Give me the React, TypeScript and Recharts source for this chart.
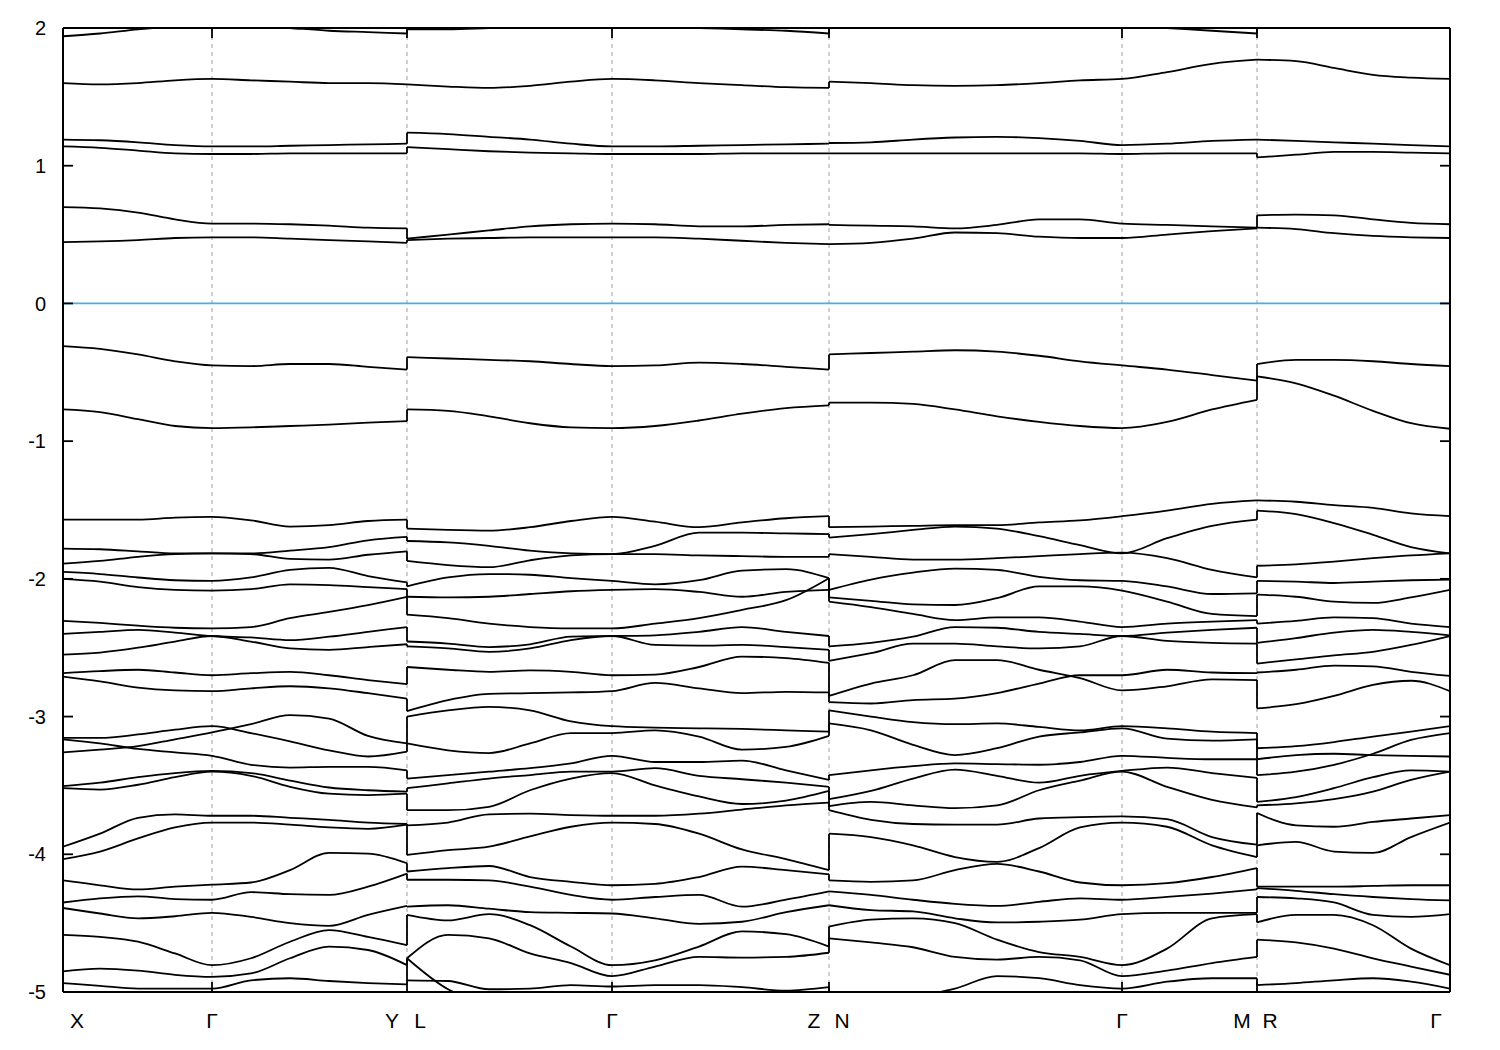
import { LineChart, Line, XAxis, YAxis, ReferenceLine } from "recharts";

// --- k-path sample positions (path length, arbitrary units) ---

const K_XY = [0, 37, 75, 112, 149, 188, 227, 266, 305, 344];
const K_LZ = [344, 385, 426, 467, 508, 549, 592, 636, 679, 723, 766];
const K_NM = [766, 808, 850, 892, 934, 976, 1017, 1059, 1104, 1149, 1194];
const K_RG = [1194, 1233, 1271, 1310, 1348, 1387];

const SYM_K = [0, 149, 344, 549, 766, 1059, 1194, 1387];
const SYM_LABELS = ["X", "Γ", "Y|L", "Γ", "Z|N", "Γ", "M|R", "Γ"];
const Y_TICKS = [-5, -4, -3, -2, -1, 0, 1, 2];

// --- band energies (eV) on each k sample ---

const BANDS_XY: number[][] = [
  [1.94, 1.96, 1.99, 2.01, 2.02, 2.02, 2.0, 1.98, 1.97, 1.96],
  [1.6, 1.59, 1.6, 1.62, 1.63, 1.62, 1.61, 1.6, 1.6, 1.59],
  [1.19, 1.185, 1.17, 1.15, 1.14, 1.14, 1.145, 1.15, 1.155, 1.16],
  [1.14, 1.13, 1.11, 1.09, 1.085, 1.085, 1.09, 1.09, 1.09, 1.09],
  [0.7, 0.69, 0.66, 0.61, 0.58, 0.58, 0.575, 0.565, 0.55, 0.545],
  [0.445, 0.45, 0.46, 0.475, 0.48, 0.48, 0.47, 0.46, 0.45, 0.44],
  [-0.31, -0.33, -0.37, -0.42, -0.45, -0.455, -0.44, -0.44, -0.46, -0.48],
  [-0.77, -0.79, -0.84, -0.89, -0.905, -0.9, -0.89, -0.88, -0.865, -0.855],
  [-1.57, -1.57, -1.57, -1.555, -1.55, -1.575, -1.62, -1.61, -1.58, -1.57],
  [-1.78, -1.785, -1.8, -1.815, -1.815, -1.82, -1.855, -1.86, -1.825, -1.8],
  [-1.89, -1.87, -1.84, -1.82, -1.815, -1.815, -1.795, -1.77, -1.72, -1.695],
  [-1.95, -1.965, -1.99, -2.01, -2.015, -1.99, -1.935, -1.92, -1.98, -2.025],
  [-2.0, -2.02, -2.06, -2.08, -2.085, -2.075, -2.04, -2.045, -2.06, -2.075],
  [-2.305, -2.32, -2.34, -2.355, -2.36, -2.35, -2.285, -2.24, -2.19, -2.13],
  [-2.4, -2.385, -2.37, -2.39, -2.415, -2.425, -2.445, -2.42, -2.385, -2.35],
  [-2.55, -2.535, -2.5, -2.455, -2.415, -2.455, -2.505, -2.515, -2.495, -2.475],
  [-2.685, -2.67, -2.66, -2.68, -2.7, -2.685, -2.675, -2.7, -2.735, -2.765],
  [-2.71, -2.745, -2.79, -2.81, -2.815, -2.795, -2.78, -2.795, -2.83, -2.87],
  [-3.155, -3.155, -3.13, -3.095, -3.07, -3.12, -3.18, -3.245, -3.29, -3.255],
  [-3.26, -3.24, -3.215, -3.165, -3.115, -3.055, -2.99, -3.015, -3.14, -3.195],
  [-3.165, -3.195, -3.235, -3.26, -3.285, -3.35, -3.37, -3.365, -3.365, -3.39],
  [-3.505, -3.48, -3.44, -3.41, -3.395, -3.41, -3.465, -3.515, -3.535, -3.545],
  [-3.52, -3.53, -3.495, -3.44, -3.4, -3.43, -3.51, -3.56, -3.57, -3.56],
  [-3.945, -3.85, -3.735, -3.71, -3.72, -3.72, -3.735, -3.75, -3.77, -3.78],
  [-4.035, -3.98, -3.885, -3.805, -3.77, -3.77, -3.785, -3.805, -3.815, -3.785],
  [-4.19, -4.225, -4.255, -4.235, -4.22, -4.205, -4.115, -3.99, -3.995, -4.065],
  [-4.35, -4.32, -4.305, -4.325, -4.33, -4.275, -4.29, -4.295, -4.235, -4.14],
  [-4.39, -4.43, -4.465, -4.45, -4.425, -4.455, -4.5, -4.52, -4.44, -4.375],
  [-4.585, -4.6, -4.635, -4.72, -4.805, -4.755, -4.635, -4.55, -4.6, -4.66],
  [-4.85, -4.83, -4.845, -4.875, -4.89, -4.865, -4.755, -4.67, -4.695, -4.805],
  [-4.935, -4.955, -4.975, -4.975, -4.975, -4.915, -4.9, -4.92, -4.935, -4.945],
];

const BANDS_LZ: number[][] = [
  [1.99, 1.99, 2.0, 2.01, 2.02, 2.02, 2.01, 2.0, 1.99, 1.98, 1.96],
  [1.59, 1.575, 1.565, 1.58, 1.61, 1.63, 1.62, 1.6, 1.585, 1.57, 1.565],
  [1.24, 1.23, 1.21, 1.19, 1.16, 1.14, 1.14, 1.145, 1.15, 1.155, 1.16],
  [1.135, 1.12, 1.105, 1.095, 1.09, 1.085, 1.085, 1.085, 1.09, 1.09, 1.09],
  [0.47, 0.5, 0.53, 0.56, 0.575, 0.58, 0.575, 0.56, 0.56, 0.57, 0.575],
  [0.46, 0.47, 0.475, 0.48, 0.48, 0.48, 0.48, 0.47, 0.455, 0.44, 0.43],
  [-0.39, -0.4, -0.41, -0.42, -0.44, -0.455, -0.45, -0.43, -0.44, -0.46, -0.48],
  [-0.77, -0.78, -0.82, -0.87, -0.9, -0.905, -0.89, -0.85, -0.8, -0.76, -0.74],
  [-1.635, -1.645, -1.65, -1.625, -1.58, -1.55, -1.585, -1.625, -1.59, -1.56, -1.545],
  [-1.725, -1.735, -1.76, -1.795, -1.815, -1.82, -1.76, -1.665, -1.665, -1.67, -1.675],
  [-1.87, -1.9, -1.915, -1.865, -1.83, -1.82, -1.82, -1.83, -1.835, -1.84, -1.84],
  [-2.055, -1.99, -1.965, -1.97, -1.995, -2.015, -2.04, -2.01, -1.94, -1.93, -1.995],
  [-2.13, -2.135, -2.13, -2.11, -2.09, -2.08, -2.075, -2.095, -2.13, -2.095, -2.08],
  [-2.26, -2.285, -2.325, -2.35, -2.36, -2.36, -2.325, -2.285, -2.225, -2.155, -1.995],
  [-2.455, -2.47, -2.495, -2.475, -2.42, -2.415, -2.41, -2.385, -2.35, -2.385, -2.415],
  [-2.49, -2.505, -2.53, -2.505, -2.445, -2.415, -2.48, -2.485, -2.48, -2.495, -2.515],
  [-2.64, -2.66, -2.675, -2.665, -2.675, -2.7, -2.695, -2.64, -2.565, -2.575, -2.61],
  [-2.96, -2.88, -2.835, -2.83, -2.825, -2.815, -2.755, -2.795, -2.83, -2.82, -2.825],
  [-3.0, -2.955, -2.93, -2.955, -3.035, -3.07, -3.08, -3.085, -3.09, -3.1, -3.11],
  [-3.195, -3.245, -3.265, -3.195, -3.12, -3.12, -3.1, -3.145, -3.24, -3.22, -3.14],
  [-3.45, -3.425, -3.4, -3.375, -3.34, -3.285, -3.33, -3.33, -3.32, -3.39, -3.46],
  [-3.52, -3.485, -3.45, -3.425, -3.4, -3.4, -3.375, -3.43, -3.455, -3.48, -3.51],
  [-3.68, -3.68, -3.655, -3.535, -3.45, -3.41, -3.5, -3.58, -3.635, -3.61, -3.54],
  [-3.79, -3.77, -3.71, -3.705, -3.715, -3.72, -3.72, -3.705, -3.675, -3.645, -3.625],
  [-4.005, -3.97, -3.945, -3.87, -3.8, -3.77, -3.78, -3.85, -3.965, -4.035, -4.115],
  [-4.125, -4.1, -4.085, -4.165, -4.2, -4.225, -4.215, -4.165, -4.09, -4.115, -4.145],
  [-4.185, -4.185, -4.19, -4.235, -4.295, -4.33, -4.31, -4.295, -4.38, -4.33, -4.27],
  [-4.38, -4.37, -4.395, -4.42, -4.425, -4.43, -4.465, -4.505, -4.49, -4.42, -4.37],
  [-4.44, -4.48, -4.435, -4.515, -4.67, -4.805, -4.77, -4.67, -4.56, -4.58, -4.67],
  [-4.755, -4.585, -4.61, -4.72, -4.79, -4.885, -4.815, -4.745, -4.75, -4.745, -4.715],
  [-4.755, -4.98, -5.08, -5.12, -5.12, -5.12, -5.12, -5.1, -5.08, -5.06, -5.05],
  [-4.915, -4.92, -4.98, -4.975, -4.95, -4.96, -4.95, -4.95, -4.965, -4.99, -4.965],
];

const BANDS_NM: number[][] = [
  [2.01, 2.02, 2.02, 2.01, 2.0, 2.0, 2.01, 2.02, 2.0, 1.98, 1.96],
  [1.61, 1.6, 1.585, 1.58, 1.585, 1.6, 1.62, 1.63, 1.68, 1.74, 1.77],
  [1.165, 1.17, 1.19, 1.205, 1.21, 1.2, 1.18, 1.15, 1.16, 1.18, 1.19],
  [1.09, 1.09, 1.09, 1.09, 1.09, 1.09, 1.09, 1.085, 1.09, 1.09, 1.09],
  [0.57, 0.565, 0.56, 0.545, 0.57, 0.61, 0.61, 0.58, 0.57, 0.56, 0.55],
  [0.43, 0.44, 0.47, 0.515, 0.51, 0.485, 0.475, 0.475, 0.5, 0.525, 0.545],
  [-0.37, -0.36, -0.35, -0.34, -0.35, -0.38, -0.42, -0.45, -0.48, -0.52, -0.56],
  [-0.72, -0.72, -0.73, -0.77, -0.82, -0.86, -0.89, -0.905, -0.86, -0.77, -0.7],
  [-1.625, -1.62, -1.615, -1.61, -1.61, -1.59, -1.575, -1.545, -1.505, -1.455, -1.43],
  [-1.7, -1.675, -1.645, -1.62, -1.635, -1.69, -1.755, -1.815, -1.705, -1.615, -1.57],
  [-1.82, -1.84, -1.86, -1.86, -1.85, -1.835, -1.82, -1.81, -1.85, -1.935, -1.99],
  [-2.08, -2.005, -1.955, -1.925, -1.935, -1.985, -2.01, -2.015, -2.055, -2.11, -2.105],
  [-2.135, -2.16, -2.185, -2.19, -2.14, -2.055, -2.055, -2.085, -2.165, -2.255, -2.27],
  [-2.165, -2.205, -2.255, -2.3, -2.28, -2.28, -2.31, -2.35, -2.325, -2.31, -2.3],
  [-2.49, -2.465, -2.42, -2.35, -2.355, -2.385, -2.4, -2.415, -2.39, -2.37, -2.355],
  [-2.595, -2.54, -2.47, -2.47, -2.49, -2.505, -2.49, -2.415, -2.45, -2.465, -2.47],
  [-2.85, -2.76, -2.7, -2.59, -2.59, -2.66, -2.72, -2.81, -2.78, -2.73, -2.735],
  [-2.895, -2.905, -2.88, -2.87, -2.83, -2.76, -2.7, -2.7, -2.66, -2.68, -2.685],
  [-2.955, -3.0, -3.04, -3.055, -3.05, -3.075, -3.1, -3.07, -3.085, -3.11, -3.12],
  [-3.05, -3.1, -3.205, -3.28, -3.23, -3.145, -3.115, -3.085, -3.16, -3.175, -3.165],
  [-3.425, -3.39, -3.36, -3.34, -3.345, -3.35, -3.33, -3.285, -3.3, -3.31, -3.31],
  [-3.6, -3.54, -3.45, -3.385, -3.43, -3.48, -3.43, -3.395, -3.37, -3.41, -3.445],
  [-3.65, -3.62, -3.645, -3.665, -3.645, -3.535, -3.465, -3.4, -3.51, -3.605, -3.66],
  [-3.68, -3.75, -3.78, -3.785, -3.785, -3.74, -3.73, -3.725, -3.745, -3.875, -3.93],
  [-3.85, -3.875, -3.935, -4.02, -4.055, -3.955, -3.805, -3.77, -3.8, -3.935, -4.02],
  [-4.19, -4.2, -4.19, -4.115, -4.07, -4.125, -4.205, -4.225, -4.21, -4.165, -4.1],
  [-4.27, -4.295, -4.33, -4.36, -4.375, -4.345, -4.32, -4.33, -4.31, -4.285, -4.255],
  [-4.37, -4.405, -4.415, -4.465, -4.495, -4.49, -4.475, -4.435, -4.425, -4.425, -4.425],
  [-4.525, -4.475, -4.465, -4.5, -4.62, -4.71, -4.745, -4.805, -4.685, -4.465, -4.435],
  [-4.61, -4.64, -4.675, -4.745, -4.765, -4.745, -4.77, -4.885, -4.845, -4.79, -4.745],
  [-5.11, -5.08, -5.035, -4.975, -4.885, -4.9, -4.95, -4.975, -4.925, -4.9, -4.9],
];

const BANDS_RG: number[][] = [
  [2.05, 2.05, 2.05, 2.05, 2.05, 2.05],
  [1.77, 1.76, 1.71, 1.66, 1.64, 1.63],
  [1.19, 1.18, 1.17, 1.16, 1.15, 1.14],
  [1.06, 1.08, 1.1, 1.1, 1.095, 1.09],
  [0.64, 0.645, 0.64, 0.61, 0.585, 0.575],
  [0.55, 0.54, 0.51, 0.49, 0.48, 0.475],
  [-0.44, -0.41, -0.41, -0.42, -0.44, -0.455],
  [-0.53, -0.58, -0.67, -0.78, -0.87, -0.91],
  [-1.43, -1.44, -1.465, -1.485, -1.525, -1.545],
  [-1.505, -1.53, -1.595, -1.68, -1.77, -1.815],
  [-1.905, -1.895, -1.875, -1.85, -1.83, -1.815],
  [-2.015, -2.02, -2.03, -2.02, -2.01, -2.005],
  [-2.115, -2.13, -2.165, -2.175, -2.135, -2.08],
  [-2.325, -2.305, -2.28, -2.285, -2.325, -2.35],
  [-2.465, -2.43, -2.39, -2.37, -2.385, -2.41],
  [-2.615, -2.585, -2.555, -2.53, -2.48, -2.415],
  [-2.68, -2.66, -2.63, -2.635, -2.675, -2.705],
  [-2.94, -2.91, -2.85, -2.77, -2.74, -2.815],
  [-3.23, -3.215, -3.185, -3.145, -3.11, -3.07],
  [-3.31, -3.28, -3.27, -3.28, -3.285, -3.29],
  [-3.425, -3.4, -3.35, -3.27, -3.17, -3.12],
  [-3.62, -3.585, -3.52, -3.44, -3.39, -3.4],
  [-3.645, -3.63, -3.6, -3.545, -3.46, -3.4],
  [-3.7, -3.79, -3.8, -3.765, -3.74, -3.715],
  [-3.935, -3.91, -3.98, -3.99, -3.875, -3.77],
  [-4.235, -4.235, -4.235, -4.23, -4.225, -4.225],
  [-4.245, -4.265, -4.29, -4.31, -4.325, -4.335],
  [-4.31, -4.32, -4.35, -4.44, -4.455, -4.435],
  [-4.495, -4.44, -4.44, -4.515, -4.685, -4.805],
  [-4.62, -4.64, -4.685, -4.755, -4.815, -4.875],
  [-4.95, -4.935, -4.915, -4.9, -4.925, -4.975],
];

// --- build series ---

type Pt = { k: number; e: number };

const PANELS = [
  { k: K_XY, bands: BANDS_XY },
  { k: K_LZ, bands: BANDS_LZ },
  { k: K_NM, bands: BANDS_NM },
  { k: K_RG, bands: BANDS_RG },
];

const bandSeries: Pt[][] = [];
PANELS.forEach((p) => {
  p.bands.forEach((b) => bandSeries.push(b.map((e, i) => ({ k: p.k[i], e }))));
});

// vertical jumps at panel boundaries: pair bands by energy order
const jumpSeries: Pt[][] = [];
for (let p = 0; p < PANELS.length - 1; p++) {
  const kb = PANELS[p + 1].k[0];
  const ends = PANELS[p].bands.map((b) => b[b.length - 1]);
  const starts = PANELS[p + 1].bands.map((b) => b[0]);
  const cond = (arr: number[]) => arr.filter((v) => v > 0).sort((a, b) => a - b);
  const val = (arr: number[]) => arr.filter((v) => v < 0).sort((a, b) => b - a);
  [[cond(ends), cond(starts)], [val(ends), val(starts)]].forEach(([a, b]) => {
    const n = Math.min(a.length, b.length);
    for (let i = 0; i < n; i++) {
      if (Math.abs(a[i] - b[i]) > 0.004) {
        jumpSeries.push([{ k: kb, e: a[i] }, { k: kb, e: b[i] }]);
      }
    }
  });
}

const K_MAX = SYM_K[SYM_K.length - 1];
const TICK_K = 10; // tick length in k units (1 unit = 1px)
const TICK_E = 10 * 7 / 964;
const LINE_W = 1.8;

function SymTick(props: any) {
  const { x, y, payload } = props;
  const idx = SYM_K.indexOf(payload.value);
  const label = SYM_LABELS[idx] ?? "";
  const style = { fontSize: 21, fill: "#000" };
  const ty = y + 36;
  if (label.includes("|")) {
    const [l, r] = label.split("|");
    return (
      <g>
        <text x={x - 15} y={ty} textAnchor="middle" {...style}>{l}</text>
        <text x={x + 13} y={ty} textAnchor="middle" {...style}>{r}</text>
      </g>
    );
  }
  const dx = idx === 0 ? 14 : idx === SYM_K.length - 1 ? -14 : 0;
  return (
    <text x={x + dx} y={ty} textAnchor="middle" {...style}>{label}</text>
  );
}

export default function App() {
  return (
    <div style={{ fontFamily: "'Liberation Sans', Arial, sans-serif" }}>
      <LineChart
        width={1484}
        height={1034}
        margin={{ top: 20, right: 42, left: 0, bottom: 0 }}
        style={{ fontFamily: "'Liberation Sans', Arial, sans-serif" }}
      >
        <XAxis
          dataKey="k"
          type="number"
          domain={[0, K_MAX]}
          ticks={SYM_K}
          interval={0}
          allowDataOverflow
          axisLine={false}
          tickLine={false}
          tickSize={0}
          tickMargin={0}
          height={50}
          tick={<SymTick />}
        />
        <YAxis
          type="number"
          domain={[-5, 2]}
          ticks={Y_TICKS}
          interval={0}
          allowDataOverflow
          axisLine={false}
          tickLine={false}
          tickSize={0}
          tickMargin={17}
          width={55}
          tick={{ fill: "#000", fontSize: 20 }}
        />

        {/* dotted high-symmetry lines */}
        {SYM_K.slice(1, -1).map((k) => (
          <ReferenceLine key={`v${k}`} x={k} stroke="#a0a0a0" strokeWidth={1} strokeDasharray="4 4" />
        ))}
        <ReferenceLine y={0} stroke="#4aaee6" strokeWidth={1.8} />

        {bandSeries.map((d, i) => (
          <Line
            key={`b${i}`}
            data={d}
            dataKey="e"
            type="monotone"
            stroke="#000"
            strokeWidth={LINE_W}
            dot={false}
            activeDot={false}
            isAnimationActive={false}
          />
        ))}
        {jumpSeries.map((d, i) => (
          <Line
            key={`j${i}`}
            data={d}
            dataKey="e"
            type="linear"
            stroke="#000"
            strokeWidth={LINE_W}
            dot={false}
            activeDot={false}
            isAnimationActive={false}
          />
        ))}

        {/* inward tick marks */}
        {Y_TICKS.map((v) => (
          <ReferenceLine key={`yl${v}`} segment={[{ x: 0, y: v }, { x: TICK_K, y: v }]} stroke="#000" strokeWidth={LINE_W} />
        ))}
        {Y_TICKS.map((v) => (
          <ReferenceLine key={`yr${v}`} segment={[{ x: K_MAX - TICK_K, y: v }, { x: K_MAX, y: v }]} stroke="#000" strokeWidth={LINE_W} />
        ))}
        {SYM_K.slice(1, -1).map((k) => (
          <ReferenceLine key={`xt${k}`} segment={[{ x: k, y: 2 }, { x: k, y: 2 - TICK_E }]} stroke="#000" strokeWidth={LINE_W} />
        ))}
        {SYM_K.slice(1, -1).map((k) => (
          <ReferenceLine key={`xb${k}`} segment={[{ x: k, y: -5 }, { x: k, y: -5 + TICK_E }]} stroke="#000" strokeWidth={LINE_W} />
        ))}

        {/* frame */}
        <ReferenceLine x={0} stroke="#000" strokeWidth={2} />
        <ReferenceLine x={K_MAX} stroke="#000" strokeWidth={2} />
        <ReferenceLine y={2} stroke="#000" strokeWidth={2} />
        <ReferenceLine y={-5} stroke="#000" strokeWidth={2} />
      </LineChart>
    </div>
  );
}
